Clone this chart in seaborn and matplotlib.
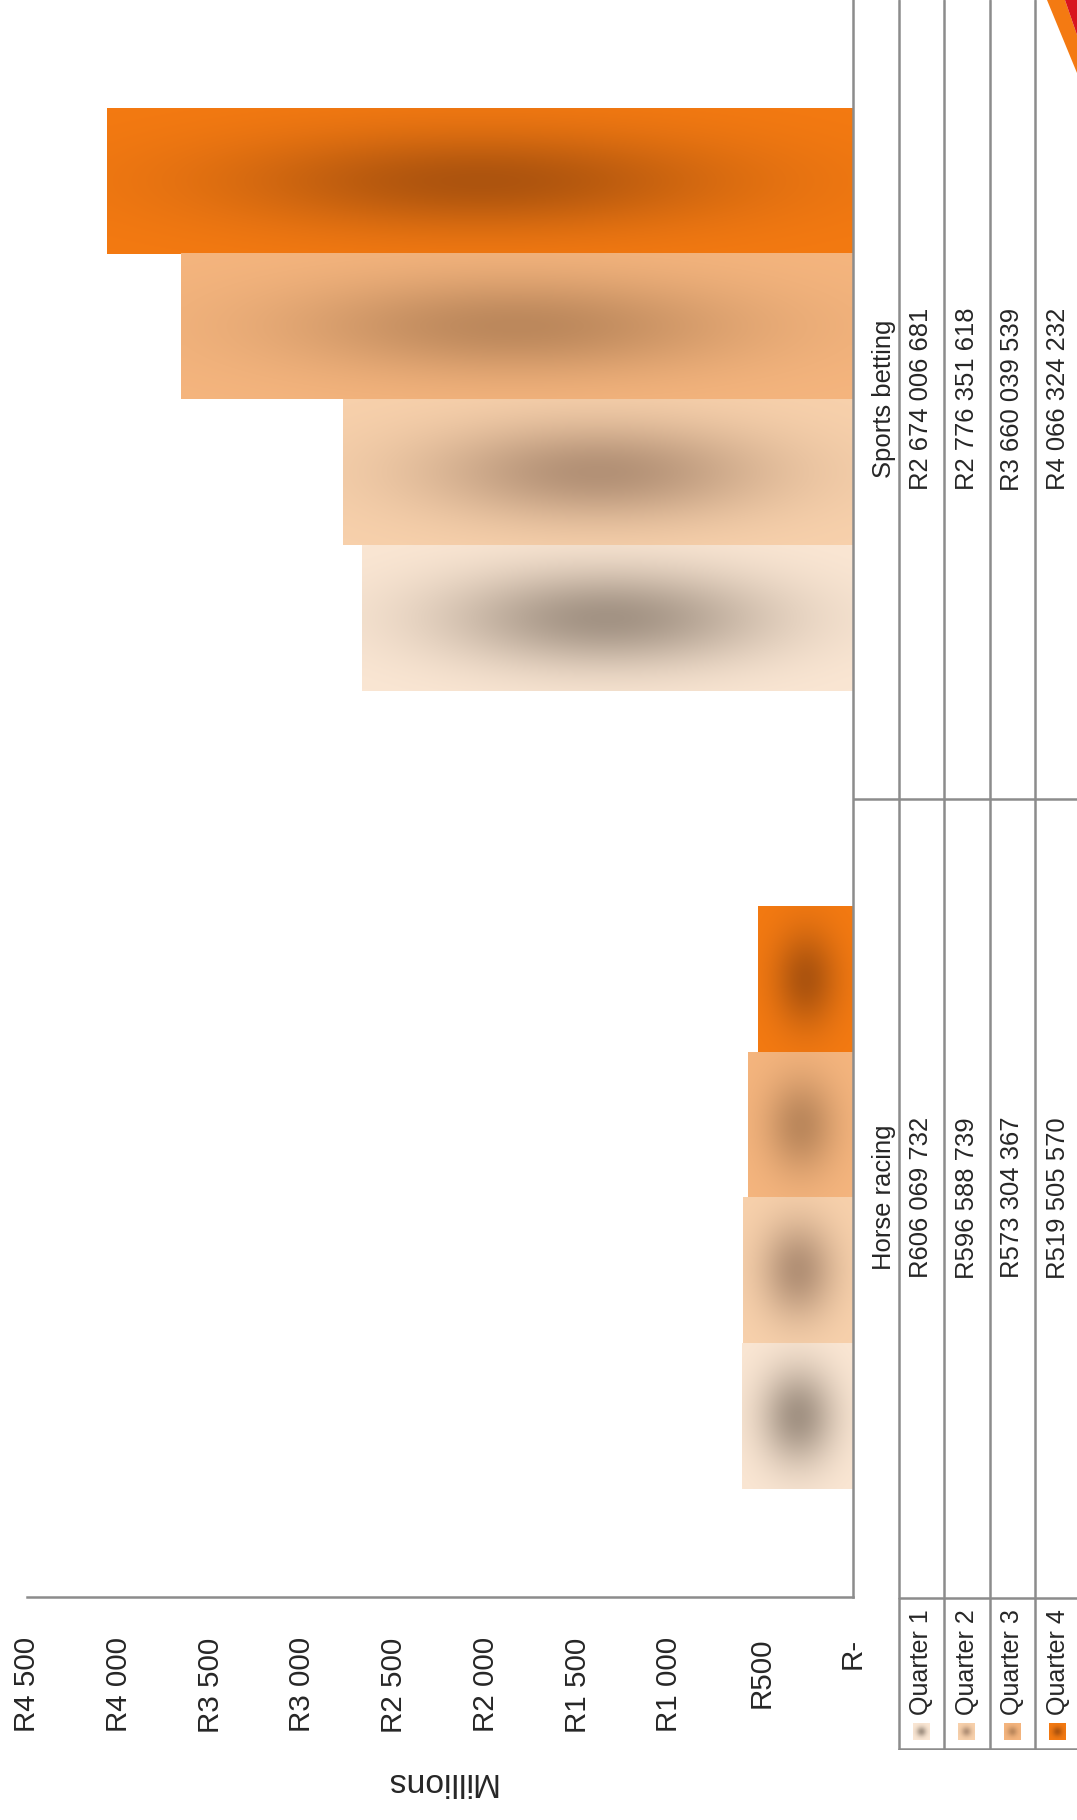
import numpy as np
import pandas as pd
import matplotlib
matplotlib.use('Agg')
import matplotlib.pyplot as plt
import seaborn as sns
from matplotlib import font_manager
from matplotlib.patches import Polygon

# Data: gross gaming revenue per quarter (Rand)
categories = ['Sports betting', 'Horse racing']
quarters = ['Quarter 1', 'Quarter 2', 'Quarter 3', 'Quarter 4']
sports_betting = [2674006681, 2776351618, 3660039539, 4066324232]
horse_racing = [606069732, 596588739, 573304367, 519505570]
tick_values = [0, 500, 1000, 1500, 2000, 2500, 3000, 3500, 4000, 4500]
tick_labels = ['R-', 'R500', 'R1 000', 'R1 500', 'R2 000', 'R2 500',
               'R3 000', 'R3 500', 'R4 000', 'R4 500']

# bar colours: edge colour of the fill and the darker centre
edge_colors = ['#FBE7D4', '#F8D1AC', '#F5B57E', '#F47A12']
center_colors = ['#A39384', '#B39176', '#BC885C', '#AD540E']

rows = []
for q, sb, hr in zip(quarters, sports_betting, horse_racing):
    rows.append({'category': 'Sports betting', 'quarter': q, 'value': sb / 1e6})
    rows.append({'category': 'Horse racing', 'quarter': q, 'value': hr / 1e6})
df = pd.DataFrame(rows)

sns.set_style('white')

# Arial Narrow look: use a narrow Liberation face if there is one, else shrink Liberation Sans
names = {f.name for f in font_manager.fontManager.ttflist}
if 'Liberation Sans Narrow' in names:
    plt.rcParams['font.family'] = ['Liberation Sans Narrow', 'DejaVu Sans']
    scale = 1.0
else:
    plt.rcParams['font.family'] = ['Liberation Sans', 'DejaVu Sans']
    scale = 0.82

W, H = 1077, 1820
LINE = '#8C8C8C'
fig = plt.figure(figsize=(W / 100, H / 100), dpi=100)
fig.patch.set_facecolor('white')

ax = fig.add_axes([27 / W, 1 - 1597 / H, (853 - 27) / W, 1597 / H])
palette = dict(zip(quarters, edge_colors))
sns.barplot(data=df, x='value', y='category', hue='quarter', order=categories,
            hue_order=quarters[::-1], palette=palette, orient='h', width=0.73,
            saturation=1, errorbar=None, legend=False, ax=ax)


def gradient(edge, center, n=80, m=80, s=0.47):
    e = np.array(matplotlib.colors.to_rgb(edge))
    c = np.array(matplotlib.colors.to_rgb(center))
    U, V = np.meshgrid(np.linspace(-1, 1, m), np.linspace(-1, 1, n))
    f = np.exp(-(U ** 2 + V ** 2) / (2 * s ** 2))[..., None]
    return e * (1 - f) + c * f


edge_rgb = [np.array(matplotlib.colors.to_rgb(c)) for c in edge_colors]
for p in list(ax.patches):
    fc = np.array(p.get_facecolor()[:3])
    k = int(np.argmin([np.abs(fc - e).sum() for e in edge_rgb]))
    x0, y0, w, h = p.get_x(), p.get_y(), p.get_width(), p.get_height()
    ax.imshow(gradient(edge_colors[k], center_colors[k]), extent=(x0, x0 + w, y0 + h, y0),
              aspect='auto', interpolation='bilinear', zorder=2)
    p.set_facecolor('none')
    p.set_edgecolor('none')

ax.set_xlim(4500, 0)
ax.set_ylim(1.5, -0.5)
ax.set_yticks([])
ax.set_ylabel('')
ax.set_xticks(tick_values)
ax.set_xticklabels(tick_labels, rotation=90, va='top', ha='center', fontsize=26 * scale)
ax.tick_params(axis='x', length=0, pad=29)
ax.set_xlabel('Millions', rotation=180, fontsize=29.5 * scale, labelpad=24)
for side in ['top', 'left']:
    ax.spines[side].set_visible(False)
for side in ['bottom', 'right']:
    ax.spines[side].set_color(LINE)
    ax.spines[side].set_linewidth(1.8)

# data table to the right of the category axis
col = 45.5
ncol = (W - 853) / col
tax = fig.add_axes([853 / W, 1 - 1597 / H, (W - 853) / W, 1597 / H], sharey=ax)
tax.set_xlim(0, ncol)
tax.axis('off')
for j in range(1, 5):
    tax.axvline(j, color=LINE, lw=1.8)
tax.axhline(0.5, color=LINE, lw=1.8)
table = [sports_betting, horse_racing]
for i, cat in enumerate(categories):
    tax.text(0.68, i, cat, rotation=90, ha='center', va='center', fontsize=22.5 * scale)
    for j, v in enumerate(table[i]):
        label = 'R' + f'{v:,}'.replace(',', ' ')
        tax.text(j + 1.5, i, label, rotation=90, ha='center', va='center', fontsize=22.5 * scale)

# legend cells under the table
lax = fig.add_axes([853 / W, 1 - 1750 / H, (W - 853) / W, (1750 - 1597) / H])
lax.set_xlim(0, ncol)
lax.set_ylim(153, 0)
lax.axis('off')
lax.plot([1, ncol], [0.8, 0.8], color=LINE, lw=1.8)
lax.plot([1, ncol], [152, 152], color=LINE, lw=1.8)
for j in range(1, 5):
    lax.plot([j, j], [0, 153], color=LINE, lw=1.8)
ks = 17 / col
for j, q in enumerate(quarters):
    lax.text(j + 1.5, 118, q, rotation=90, ha='center', va='bottom', fontsize=22 * scale)
    cx = j + 1.5
    lax.imshow(gradient(edge_colors[j], center_colors[j], s=0.4),
               extent=(cx - ks / 2, cx + ks / 2, 142.5, 125.5),
               aspect='auto', interpolation='bilinear')
lax.set_xlim(0, ncol)
lax.set_ylim(153, 0)

# corner of the logo at the top right
fig.patches.append(Polygon([(1047 / W, 1), (1065 / W, 1), (1077 / W, 1 - 35 / H), (1077 / W, 1 - 73 / H)],
                           closed=True, transform=fig.transFigure, color='#F47A12', lw=0))
fig.patches.append(Polygon([(1065 / W, 1), (W / W, 1), (W / W, 1 - 35 / H)],
                           closed=True, transform=fig.transFigure, color='#D8141E', lw=0))

fig.savefig('out.png', dpi=100)
